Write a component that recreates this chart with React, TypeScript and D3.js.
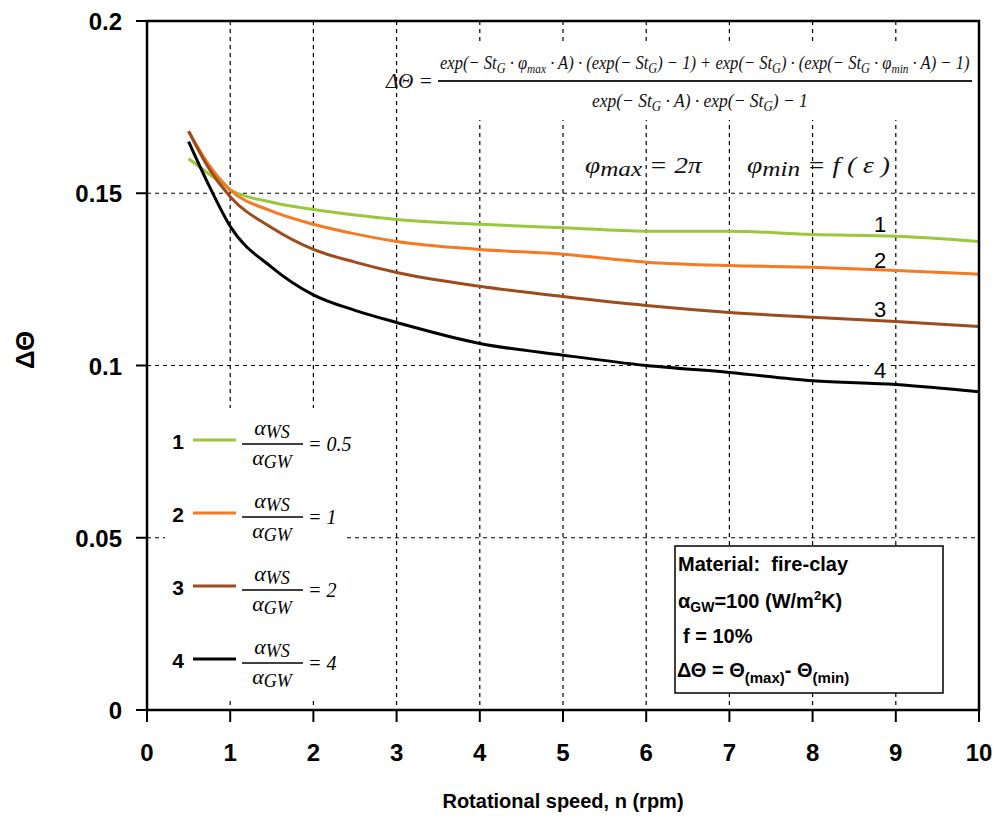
import React, { useLayoutEffect, useRef, useState } from "react";
import * as d3 from "d3";

const speeds = [0.5, 0.75, 1, 1.5, 2, 2.5, 3, 4, 5, 6, 7, 8, 9, 10];
const series1 = [0.16, 0.1555, 0.151, 0.1474, 0.1453, 0.1437, 0.1424, 0.141, 0.14, 0.139, 0.139, 0.138, 0.1375, 0.136];
const series2 = [0.168, 0.158, 0.151, 0.1448, 0.141, 0.1382, 0.136, 0.1337, 0.1323, 0.13, 0.129, 0.1285, 0.1276, 0.1265];
const series3 = [0.168, 0.157, 0.149, 0.14, 0.1337, 0.13, 0.127, 0.123, 0.12, 0.1174, 0.1154, 0.114, 0.1128, 0.1113];
const series4 = [0.165, 0.152, 0.1404, 0.1285, 0.1205, 0.116, 0.1125, 0.1064, 0.103, 0.1, 0.098, 0.0956, 0.0945, 0.0924];
const seriesNames = ["1", "2", "3", "4"];
const ratioLabels = ["0.5", "1", "2", "4"];
const colors = ["#9BC83A", "#F57A22", "#9E4B1C", "#000000"];
const xTicks = [0, 1, 2, 3, 4, 5, 6, 7, 8, 9, 10];
const yTicks = [0, 0.05, 0.1, 0.15, 0.2];
const yTickLabels = ["0", "0.05", "0.1", "0.15", "0.2"];

const L = 147, R = 979, T = 21, B = 710;

// Group whose content is horizontally scaled to a target width
function Fit({ x, y, width, children }: { x: number; y: number; width: number; children: React.ReactNode }) {
  const ref = useRef<SVGGElement>(null);
  const [s, setS] = useState(1);
  useLayoutEffect(() => {
    if (ref.current) {
      const w = ref.current.getBBox().width;
      if (w > 0) setS(width / w);
    }
  }, [width]);
  return (
    <g transform={`translate(${x},${y}) scale(${s},1)`}>
      <g ref={ref}>{children}</g>
    </g>
  );
}

export default function App() {
  const x = d3.scaleLinear().domain([0, 10]).range([L, R]);
  const y = d3.scaleLinear().domain([0, 0.2]).range([B, T]);
  const allSeries = [series1, series2, series3, series4];
  const line = d3
    .line<[number, number]>()
    .x((d) => x(d[0]))
    .y((d) => y(d[1]))
    .curve(d3.curveMonotoneX);

  const sans = "Arial, 'Liberation Sans', sans-serif";
  const serif = "'Times New Roman', 'Liberation Serif', serif";
  const labelY = [232, 268, 317, 378];
  const legendBar = [444, 517, 590, 663];

  return (
    <svg
      width={999}
      height={830}
      style={{ position: "absolute", left: 0, top: 0, background: "#fff" }}
    >
      <rect x={0} y={0} width={999} height={830} fill="#fff" />
      {/* grid */}
      {xTicks.slice(1, -1).map((t) => (
        <line key={"gx" + t} x1={x(t)} x2={x(t)} y1={T} y2={B} stroke="#000" strokeWidth={1.2} strokeDasharray="4,4" />
      ))}
      {yTicks.slice(1, -1).map((t) => (
        <line key={"gy" + t} x1={L} x2={R} y1={y(t)} y2={y(t)} stroke="#000" strokeWidth={1.2} strokeDasharray="4,4" />
      ))}
      {/* white backgrounds */}
      <rect x={405} y={42} width={571} height={78} fill="#fff" />
      <rect x={165} y={408} width={180} height={289} fill="#fff" />
      <rect x={869} y={360} width={22} height={22} fill="#fff" />

      {/* curves */}
      {allSeries.map((s, i) => (
        <path
          key={"s" + i}
          d={line(speeds.map((n, j) => [n, s[j]]) as [number, number][]) || ""}
          fill="none"
          stroke={colors[i]}
          strokeWidth={3}
        />
      ))}

      {/* frame */}
      <rect x={L} y={T} width={R - L} height={B - T} fill="none" stroke="#000" strokeWidth={2.5} />

      {/* axes ticks */}
      {xTicks.map((t) => (
        <g key={"xt" + t}>
          <line x1={x(t)} x2={x(t)} y1={B} y2={B + 12} stroke="#000" strokeWidth={2} />
          <text x={x(t)} y={761} textAnchor="middle" fontFamily={sans} fontWeight="bold" fontSize={24}>
            {t}
          </text>
        </g>
      ))}
      {yTicks.map((t, i) => (
        <g key={"yt" + t}>
          <line x1={L - 11} x2={L} y1={y(t)} y2={y(t)} stroke="#000" strokeWidth={2} />
          <text x={122} y={y(t) + 9} textAnchor="end" fontFamily={sans} fontWeight="bold" fontSize={24}>
            {yTickLabels[i]}
          </text>
        </g>
      ))}
      <text x={563} y={808} textAnchor="middle" fontFamily={sans} fontWeight="bold" fontSize={20}>
        Rotational speed, n (rpm)
      </text>
      <text
        transform="translate(34,350) rotate(-90)"
        textAnchor="middle"
        fontFamily={sans}
        fontWeight="bold"
        fontSize={26}
      >
        ΔΘ
      </text>

      {/* curve labels */}
      {seriesNames.map((nm, i) => (
        <text key={"cl" + i} x={880} y={labelY[i]} textAnchor="middle" fontFamily={sans} fontSize={22}>
          {nm}
        </text>
      ))}

      {/* legend */}
      {seriesNames.map((nm, i) => {
        const by = legendBar[i];
        return (
          <g key={"lg" + i}>
            <text x={178} y={by + 5} textAnchor="middle" fontFamily={sans} fontWeight="bold" fontSize={21}>
              {nm}
            </text>
            <line x1={193} x2={236} y1={by - 4} y2={by - 4} stroke={colors[i]} strokeWidth={3} />
            <text x={272} y={by - 9} textAnchor="middle" fontFamily={serif} fontStyle="italic" fontSize={22}>
              α<tspan fontSize={18} dy={3}>WS</tspan>
            </text>
            <line x1={242} x2={303} y1={by} y2={by} stroke="#000" strokeWidth={1.3} />
            <text x={272} y={by + 21} textAnchor="middle" fontFamily={serif} fontStyle="italic" fontSize={22}>
              α<tspan fontSize={18} dy={3}>GW</tspan>
            </text>
            <text x={308} y={by + 7} fontFamily={serif} fontStyle="italic" fontSize={20}>
              = {ratioLabels[i]}
            </text>
          </g>
        );
      })}

      {/* formula */}
      <g fontFamily={serif} fontStyle="italic" fill="#111">
        <Fit x={386} y={88} width={48}>
          <text x={0} y={0} fontSize={20}>ΔΘ =</text>
        </Fit>
        <Fit x={440} y={69} width={530}>
          <text x={0} y={0} fontSize={19}>
            exp(− St<tspan fontSize={14} dy={4}>G</tspan>
            <tspan dy={-4}> · φ</tspan>
            <tspan fontSize={13} dy={4}>max</tspan>
            <tspan dy={-4}> · A) · (exp(− St</tspan>
            <tspan fontSize={14} dy={4}>G</tspan>
            <tspan dy={-4}>) − 1) + exp(− St</tspan>
            <tspan fontSize={14} dy={4}>G</tspan>
            <tspan dy={-4}>) · (exp(− St</tspan>
            <tspan fontSize={14} dy={4}>G</tspan>
            <tspan dy={-4}> · φ</tspan>
            <tspan fontSize={13} dy={4}>min</tspan>
            <tspan dy={-4}> · A) − 1)</tspan>
          </text>
        </Fit>
        <line x1={438} x2={972} y1={81} y2={81} stroke="#222" strokeWidth={1.8} />
        <Fit x={592} y={107} width={216}>
          <text x={0} y={0} fontSize={19}>
            exp(− St<tspan fontSize={14} dy={4}>G</tspan>
            <tspan dy={-4}> · A) · exp(− St</tspan>
            <tspan fontSize={14} dy={4}>G</tspan>
            <tspan dy={-4}>) − 1</tspan>
          </text>
        </Fit>
        <Fit x={585} y={173} width={118}>
          <text x={0} y={0} fontSize={24}>
            φ<tspan fontSize={22} dy={3}>max</tspan>
            <tspan dy={-3}> = 2π</tspan>
          </text>
        </Fit>
        <Fit x={747} y={173} width={143}>
          <text x={0} y={0} fontSize={24}>
            φ<tspan fontSize={22} dy={3}>min</tspan>
            <tspan dy={-3}> = f ( ε )</tspan>
          </text>
        </Fit>
      </g>

      {/* material box */}
      <rect x={675} y={546} width={268} height={147} fill="#fff" stroke="#000" strokeWidth={1.5} />
      <g fontFamily={sans} fontSize={20} fontWeight="bold" fill="#000">
        <text x={678} y={571} xmlSpace="preserve">Material:  fire-clay</text>
        <text x={678} y={608}>
          α<tspan fontSize={14} dy={4}>GW</tspan>
          <tspan dy={-4}>=100 (W/m</tspan>
          <tspan fontSize={13} dy={-8}>2</tspan>
          <tspan dy={8}>K)</tspan>
        </text>
        <text x={683} y={643}>f = 10%</text>
        <text x={677} y={677}>
          ΔΘ = Θ<tspan fontSize={15} dy={6}>(max)</tspan>
          <tspan dy={-6}>- Θ</tspan>
          <tspan fontSize={15} dy={6}>(min)</tspan>
        </text>
      </g>
    </svg>
  );
}
